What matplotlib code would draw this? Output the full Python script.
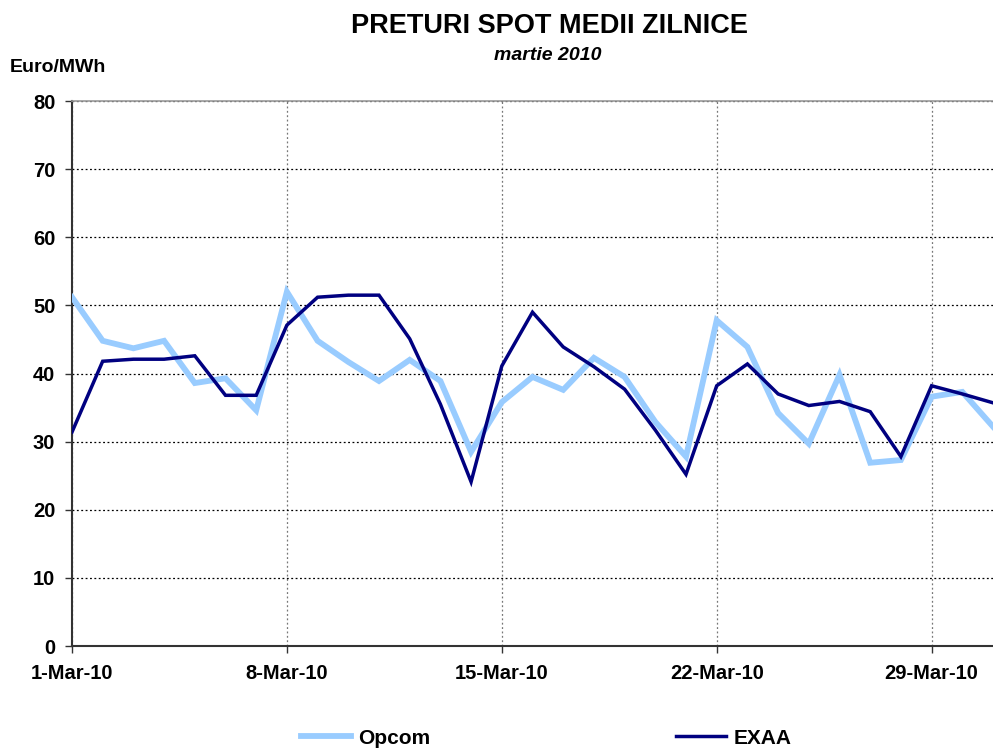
import matplotlib
matplotlib.use("Agg")
import matplotlib.pyplot as plt
import numpy as np

plt.rcParams['font.family'] = ['Liberation Sans', 'DejaVu Sans']
plt.rcParams['font.weight'] = 'bold'

days = np.arange(1, 32)
opcom = [51.2, 44.8, 43.7, 44.8, 38.6, 39.3, 34.6, 52.0, 44.8, 41.7,
         38.9, 42.0, 38.9, 28.5, 35.8, 39.5, 37.6, 42.3, 39.5, 32.9,
         27.8, 47.8, 43.9, 34.2, 29.7, 39.8, 26.9, 27.3, 36.6, 37.3, 32.2]
exaa = [31.4, 41.8, 42.1, 42.1, 42.6, 36.8, 36.8, 47.1, 51.2, 51.5,
        51.5, 45.1, 35.5, 24.1, 41.1, 49.0, 43.9, 41.0, 37.7, 31.7,
        25.2, 38.2, 41.4, 37.0, 35.3, 35.9, 34.4, 27.8, 38.2, 37.0, 35.7]
tick_days = [1, 8, 15, 22, 29]
tick_labels = ['1-Mar-10', '8-Mar-10', '15-Mar-10', '22-Mar-10', '29-Mar-10']

fig = plt.figure(figsize=(9.93, 7.51), dpi=100)
ax = fig.add_axes([0.0725, 0.1398, 0.9275, 0.7257])

ax.plot(days, opcom, color='#99CCFF', lw=4.2, label='Opcom', solid_joinstyle='miter', zorder=3)
ax.plot(days, exaa, color='#000080', lw=2.5, label='EXAA', solid_joinstyle='miter', zorder=4)

ax.set_xlim(1, 31)
ax.set_ylim(0, 80)
ax.set_yticks(range(0, 81, 10))
ax.set_xticks(tick_days)
ax.set_xticklabels(tick_labels)

ax.yaxis.grid(True, linestyle=(0, (1.5, 2)), color='black', lw=0.9)
ax.xaxis.grid(True, linestyle=(0, (1.5, 2)), color='#777777', lw=0.9)
ax.set_axisbelow(True)

ax.spines['right'].set_visible(False)
ax.spines['top'].set_color('#999999')
ax.spines['top'].set_linewidth(1.2)
ax.spines['left'].set_color('#333333')
ax.spines['left'].set_linewidth(1.5)
ax.spines['bottom'].set_color('#333333')
ax.spines['bottom'].set_linewidth(1.5)

ax.tick_params(axis='both', labelsize=14.5, length=5, width=1, color='#333333')
ax.tick_params(axis='x', pad=8)
ax.tick_params(axis='y', pad=7)
for lab in ax.get_xticklabels() + ax.get_yticklabels():
    lab.set_fontweight('bold')

fig.text(0.553, 0.966, 'PRETURI SPOT MEDII ZILNICE', ha='center', va='center',
         fontsize=19.5, fontweight='bold')
fig.text(0.552, 0.926, 'martie 2010', ha='center', va='center',
         fontsize=14, fontweight='bold', style='italic')
fig.text(0.010, 0.910, 'Euro/MWh', ha='left', va='center', fontsize=14, fontweight='bold')

leg = fig.legend(loc='center', bbox_to_anchor=(0.55, 0.017), ncol=2, frameon=False,
                 fontsize=15, handlelength=2.4, columnspacing=11.8, handletextpad=0.35)
for t in leg.get_texts():
    t.set_fontweight('bold')

fig.savefig('out.png', dpi=100)
